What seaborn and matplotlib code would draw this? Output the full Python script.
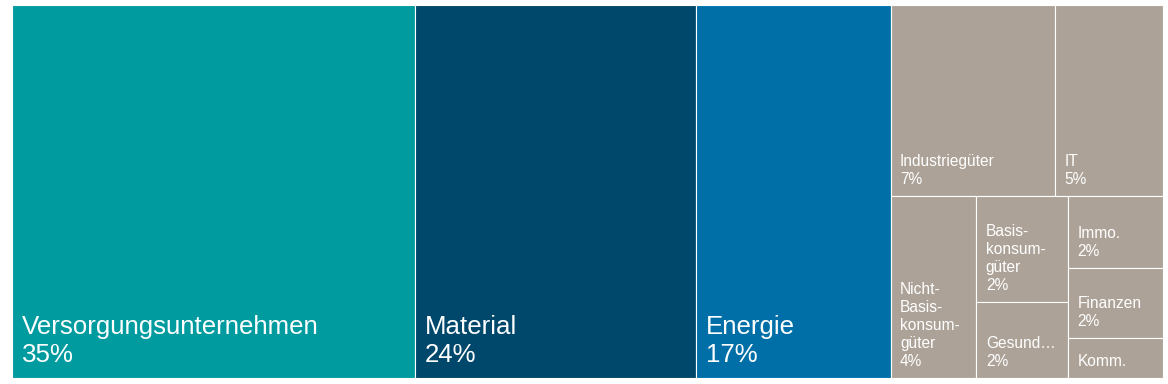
import matplotlib
matplotlib.use("Agg")
import matplotlib.pyplot as plt
from matplotlib.patches import Rectangle
import seaborn as sns

# ---- data -------------------------------------------------------------
sectors = ["Versorgungsunternehmen", "Material", "Energie", "Industriegüter", "IT",
           "Nicht-\nBasis-\nkonsum-\ngüter", "Basis-\nkonsum-\ngüter", "Gesund…",
           "Immo.", "Finanzen", "Komm."]
weights = [34.97, 24.41, 16.94, 7.32, 4.82, 3.63, 2.26, 1.62, 1.59, 1.54, 0.89]
show_pct = [True, True, True, True, True, True, True, True, True, True, False]
colors = ["#009B9F", "#00486B", "#006FA8", "#ACA298", "#ACA298", "#ACA298",
          "#ACA298", "#ACA298", "#ACA298", "#ACA298", "#ACA298"]
big_label = [True, True, True, False, False, False, False, False, False, False, False]


def squarify(values, x0, y0, x1, y1, ratio):
    """d3-style squarified treemap layout (rows placed top/left)."""
    rects = []
    n = len(values)
    value = float(sum(values))
    i0 = i1 = 0
    while i0 < n:
        dx, dy = x1 - x0, y1 - y0
        sum_v = values[i1]
        i1 += 1
        min_v = max_v = sum_v
        alpha = max(dy / dx, dx / dy) / (value * ratio)
        beta = sum_v * sum_v * alpha
        min_ratio = max(max_v / beta, beta / min_v)
        while i1 < n:
            nv = values[i1]
            s = sum_v + nv
            mn, mx = min(min_v, nv), max(max_v, nv)
            beta = s * s * alpha
            new_ratio = max(mx / beta, beta / mn)
            if new_ratio > min_ratio:
                break
            sum_v, min_v, max_v, min_ratio = s, mn, mx, new_ratio
            i1 += 1
        row = values[i0:i1]
        if dx < dy:
            yb = y0 + dy * sum_v / value
            xx = x0
            for v in row:
                w = dx * v / sum_v
                rects.append((xx, y0, w, yb - y0))
                xx += w
            y0 = yb
        else:
            xb = x0 + dx * sum_v / value
            yy = y0
            for v in row:
                h = dy * v / sum_v
                rects.append((x0, yy, xb - x0, h))
                yy += h
            x0 = xb
        value -= sum_v
        i0 = i1
    return rects


sns.set_theme(style="white")
plt.rcParams["font.family"] = ["Liberation Sans", "DejaVu Sans"]

FW, FH = 1168, 384
fig = plt.figure(figsize=(FW / 100, FH / 100), dpi=100)
fig.patch.set_facecolor("white")
left, right, top, bottom = 12, 1163, 5, 378
ax = fig.add_axes([left / FW, 1 - bottom / FH, (right - left) / FW, (bottom - top) / FH])
W, H = right - left, bottom - top
ax.set_xlim(0, W)
ax.set_ylim(H, 0)
ax.set_axis_off()

rects = squarify(weights, 0, 0, W, H, ratio=0.92)

for (x, y, w, h), name, v, sp, c, big in zip(rects, sectors, weights, show_pct, colors, big_label):
    ax.add_patch(Rectangle((x, y), w, h, facecolor=c, edgecolor="white", linewidth=0.8))
    label = f"{name}\n{round(v)}%" if sp else name
    if big:
        ax.annotate(label, xy=(x, y + h), xycoords="data", xytext=(10, 10.5),
                    textcoords="offset pixels", ha="left", va="bottom",
                    color="white", fontsize=18.6, linespacing=1.25)
    else:
        ax.annotate(label, xy=(x, y + h), xycoords="data", xytext=(9.5, 9),
                    textcoords="offset pixels", ha="left", va="bottom",
                    color="white", fontsize=11.2, linespacing=1.25)

fig.savefig("out.png", dpi=100, facecolor="white")
